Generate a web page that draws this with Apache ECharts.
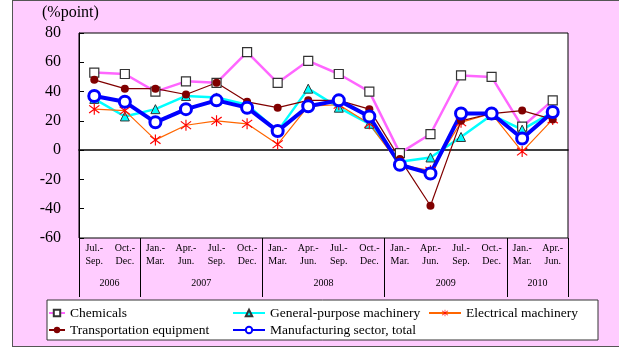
<!DOCTYPE html>
<html><head><meta charset="utf-8">
<script src="https://cdn.jsdelivr.net/npm/echarts@6/dist/echarts.min.js"></script>
<style>
html,body{margin:0;padding:0;background:#fff;}
#frame{position:absolute;left:12px;top:0;width:607px;height:347px;background:#FFCCFF;border-top:1px solid #555;border-left:1px solid #555;border-bottom:1px solid #555;box-sizing:border-box;}
#chart{position:absolute;left:0;top:0;width:619px;height:347px;}
</style></head><body>
<div id="frame"></div><div id="chart"></div>
<script>
const quarters = ['Jul.-\nSep.','Oct.-\nDec.','Jan.-\nMar.','Apr.-\nJun.','Jul.-\nSep.','Oct.-\nDec.','Jan.-\nMar.','Apr.-\nJun.','Jul.-\nSep.','Oct.-\nDec.','Jan.-\nMar.','Apr.-\nJun.','Jul.-\nSep.','Oct.-\nDec.','Jan.-\nMar.','Apr.-\nJun.'];
const years = ['2006','2007','2008','2009','2010'];
const yearSpans = [2,4,4,4,2];
const yMin = -60, yMax = 80, yStep = 20;
const chemicals      = [53,52,40,47,46,67,46,61,52,40,-2,11,51,50,16,34];
const generalPurpose = [35,23,28,37,36,31,13,42,29,18,-8,-5,9,24,14,26];
const electrical     = [28,27,7,17,20,18,4,30,31,18,-10,-14,19,25,-1,21];
const transport      = [48,42,42,38,46,33,29,34,34,28,-6,-38,20,25,27,21];
const manufacturing  = [37,33,19,28,34,29,13,30,34,23,-10,-16,25,25,8,26];

const boundaries = [0]; const yearCenters = [];
yearSpans.forEach(s => { const a = boundaries[boundaries.length-1]; yearCenters.push(a + s/2); boundaries.push(a + s); });

const serif = 'Liberation Serif, Times New Roman, serif';
const asterisk = 'path://M9.1,0 L10.9,0 L10.9,20 L9.1,20 Z M1.4,3.7 L2.6,2.3 L18.6,16.3 L17.4,17.7 Z M17.4,2.3 L18.6,3.7 L2.6,17.7 L1.4,16.3 Z';

const chart = echarts.init(document.getElementById('chart'));
function leg(name, left, top, w) {
  return { data: [name], left: left, top: top, padding: 0, itemWidth: w, itemHeight: 8,
    textStyle: { fontFamily: serif, fontSize: 13.5, color: '#000' }, selectedMode: false };
}
chart.setOption({
  backgroundColor: 'transparent',
  animation: false,
  title: { text: '(%point)', left: 42, top: 5, padding: 0,
    textStyle: { fontFamily: serif, fontSize: 16, fontWeight: 'normal', color: '#000' } },
  graphic: [{ type: 'rect', shape: { x: 47, y: 300, width: 551, height: 40 },
    style: { fill: '#fff', stroke: '#333', lineWidth: 1 }, z: -1 }],
  legend: [
    leg('Chemicals', 48, 306, 16),
    leg('General-purpose machinery', 232, 306, 32),
    leg('Electrical machinery', 428, 306, 32),
    leg('Transportation equipment', 48, 323, 16),
    leg('Manufacturing sector, total', 232, 323, 32)
  ],
  grid: { left: 79, right: 51, top: 33, bottom: 109, show: true, backgroundColor: '#fff', borderColor: '#000', borderWidth: 1 },
  xAxis: [
    { type: 'category', data: quarters, boundaryGap: true,
      axisLine: { onZero: true, lineStyle: { color: '#000', width: 1.5 } },
      axisTick: { inside: true, length: 5, lineStyle: { color: '#000' } },
      axisLabel: { show: false }, splitLine: { show: false } },
    { type: 'category', data: quarters, boundaryGap: true, position: 'bottom',
      axisLine: { onZero: false, show: false },
      axisTick: { inside: false, length: 30, lineStyle: { color: '#000' } },
      axisLabel: { margin: 4, fontFamily: serif, fontSize: 10, lineHeight: 13, color: '#000' },
      splitLine: { show: false } },
    { type: 'value', min: 0, max: quarters.length, position: 'bottom',
      axisLine: { onZero: false, show: false },
      axisTick: { show: true, inside: false, length: 59, customValues: boundaries, lineStyle: { color: '#000' } },
      axisLabel: { margin: 40, fontFamily: serif, fontSize: 10, color: '#000', customValues: yearCenters,
        formatter: v => years[yearCenters.indexOf(v)] },
      splitLine: { show: false } }
  ],
  yAxis: { type: 'value', min: yMin, max: yMax, interval: yStep,
    axisLine: { show: true, lineStyle: { color: '#000' } },
    axisTick: { show: true, inside: true, length: 5, lineStyle: { color: '#000' } },
    axisLabel: { margin: 18, fontFamily: serif, fontSize: 16, color: '#000' },
    splitLine: { show: false } },
  series: [
    { name: 'Chemicals', type: 'line', data: chemicals, symbol: 'rect', symbolSize: 9,
      lineStyle: { color: '#FF66FF', width: 2.5 }, itemStyle: { color: '#fff', borderColor: '#333', borderWidth: 1.2 } },
    { name: 'General-purpose machinery', type: 'line', data: generalPurpose, symbol: 'triangle', symbolSize: 9,
      lineStyle: { color: '#00FFFF', width: 2.5 }, itemStyle: { color: '#00FFFF', borderColor: '#333', borderWidth: 1 } },
    { name: 'Electrical machinery', type: 'line', data: electrical, symbol: asterisk, symbolSize: 11,
      lineStyle: { color: '#FF6600', width: 1.2 }, itemStyle: { color: '#FF0000', borderWidth: 0 } },
    { name: 'Transportation equipment', type: 'line', data: transport, symbol: 'circle', symbolSize: 8,
      lineStyle: { color: '#800000', width: 1.2 }, itemStyle: { color: '#800000', borderWidth: 0 } },
    { name: 'Manufacturing sector, total', type: 'line', data: manufacturing, symbol: 'circle', symbolSize: 11,
      lineStyle: { color: '#0000FF', width: 4 }, itemStyle: { color: '#fff', borderColor: '#0000FF', borderWidth: 3 } }
  ]
});
</script></body></html>
